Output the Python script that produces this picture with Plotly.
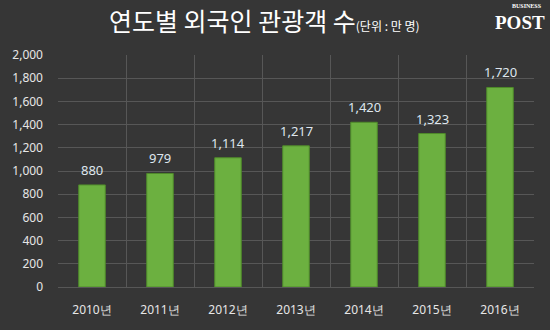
import plotly.graph_objects as go

years = ["2010년", "2011년", "2012년", "2013년", "2014년", "2015년", "2016년"]
visitors = [880, 979, 1114, 1217, 1420, 1323, 1720]
ytick_vals = [0, 200, 400, 600, 800, 1000, 1200, 1400, 1600, 1800, 2000]

W, H = 550, 330
ML, MR, MT, MB = 56, 16, 55, 42
PW, PH = W - ML - MR, H - MT - MB


def px(x):
    return (x - ML) / PW


def py(y):
    return (H - y - MB) / PH


fig = go.Figure()
fig.add_trace(go.Bar(
    x=years, y=visitors,
    marker=dict(color="#6cb040", line=dict(color="#4f8a2a", width=1)),
    hoverinfo="x+y",
))

annotations = [
    dict(x=yr, y=v, xref="x", yref="y", text=f"{v:,}", showarrow=False,
         yshift=15, xanchor="center", yanchor="middle",
         font=dict(color="#dfe6ee", size=13, family="Noto Sans"))
    for yr, v in zip(years, visitors)
]
annotations += [
    dict(
        text="연도별 외국인 관광객 수<span style='font-size:12px'>(단위 : 만 명)</span>",
        x=px(263), y=py(20), xref="paper", yref="paper",
        xanchor="center", yanchor="middle",
        showarrow=False,
        font=dict(size=25, color="#ffffff", family="Noto Sans CJK KR"),
    ),
    dict(text="<b>BUSINESS</b>", x=px(527), y=py(6), xref="paper", yref="paper",
         xanchor="center", yanchor="middle", showarrow=False,
         font=dict(size=6, color="#ffffff", family="Liberation Serif")),
    dict(text="<b>POST</b>", x=px(520), y=py(22), xref="paper", yref="paper",
         xanchor="center", yanchor="middle", showarrow=False,
         font=dict(size=19, color="#ffffff", family="Liberation Serif")),
]

fig.update_layout(
    width=W, height=H,
    margin=dict(l=ML, r=MR, t=MT, b=MB),
    paper_bgcolor="#363636",
    plot_bgcolor="#363636",
    bargap=0.61,
    showlegend=False,
    font=dict(family="Noto Sans", color="#e6e6e6"),
    xaxis=dict(
        showgrid=True, gridcolor="#575757", gridwidth=1,
        tickson="boundaries",
        tickfont=dict(size=12, color="#e6e6e6"),
        showline=False, zeroline=False, ticks="",
        ticklabelstandoff=14,
    ),
    yaxis=dict(
        range=[0, 2000], tickvals=ytick_vals, tickformat=",",
        gridcolor="#575757", gridwidth=1,
        tickfont=dict(size=12, color="#e6e6e6"),
        zeroline=True, zerolinecolor="#575757", zerolinewidth=1,
        ticks="", ticklabelstandoff=14,
    ),
    annotations=annotations,
)

fig.write_html("out.html")
